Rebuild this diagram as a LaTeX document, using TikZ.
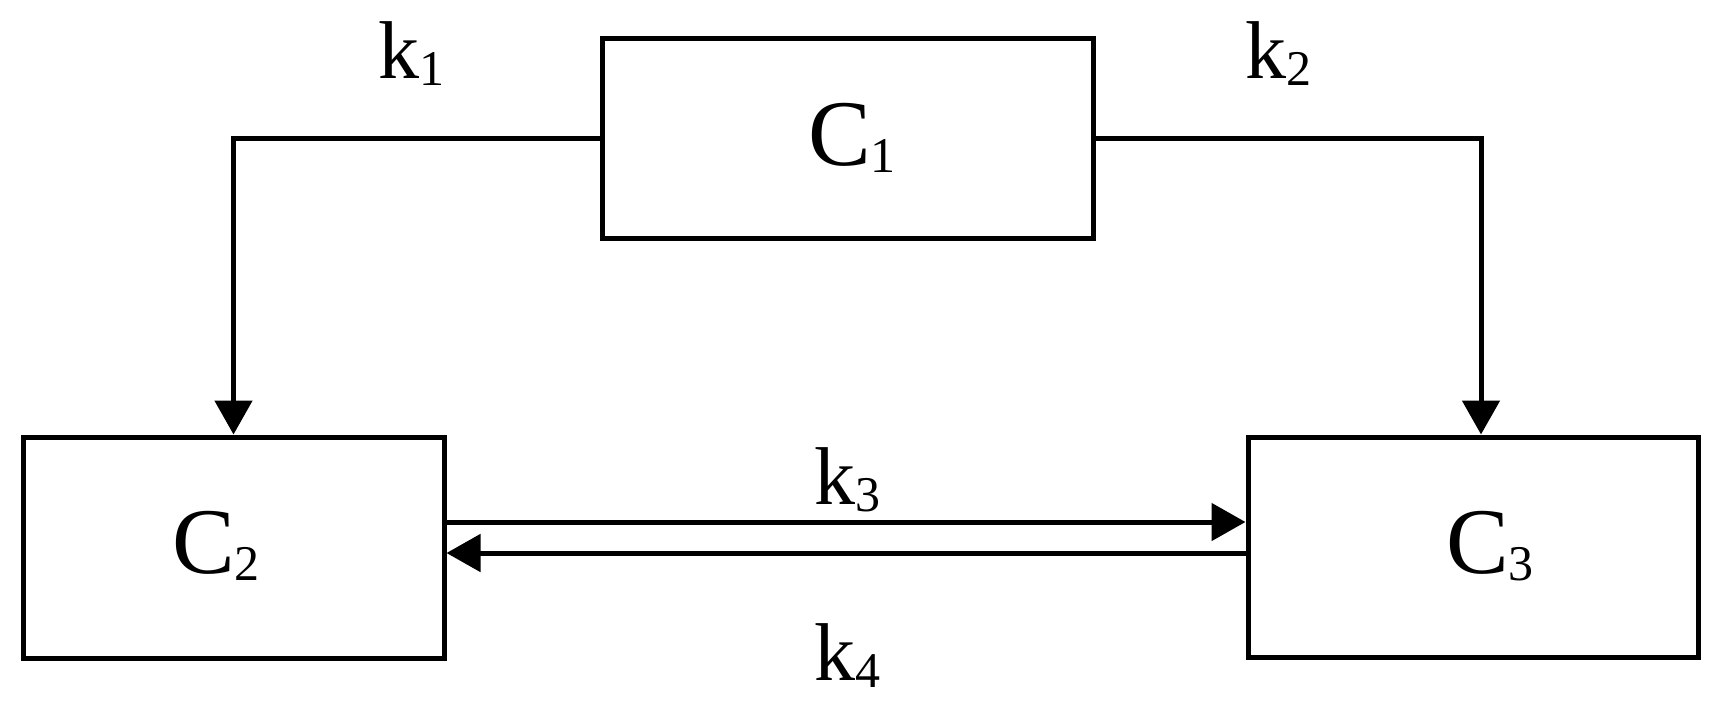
\documentclass[tikz,border=0pt]{standalone}
\usepackage{fontspec}
\setmainfont{Liberation Serif}
\usetikzlibrary{arrows.meta}
\tikzset{
  box/.style={draw, line width=2.5pt, rectangle, inner sep=0pt},
  conn/.style={line width=2.5pt},
  arr/.style={conn, -{Triangle[length=17pt,width=18.5pt]}},
  clab/.style={anchor=base, inner sep=0pt, font=\fontsize{47}{50}\selectfont},
  klab/.style={anchor=base, inner sep=0pt, font=\fontsize{41}{44}\selectfont},
}
\newcommand{\mysubs}[1]{\raisebox{-3.5pt}{\fontsize{25}{25}\selectfont #1}}
\begin{document}
\begin{tikzpicture}[x=0.5pt,y=-0.5pt]
\fill[white] (0,0) rectangle (1719,703);
\useasboundingbox (0,0) rectangle (1719,703);
% boxes
\node[box, minimum width=245.5pt, minimum height=100pt] (c1) at (847.5,138) {};
\node[box, minimum width=210.5pt, minimum height=110.5pt] (c2) at (233.5,547.5) {};
\node[box, minimum width=225pt, minimum height=110pt] (c3) at (1473,547) {};
% box labels
\node[clab] (c1t) at (852,165) {C\mysubs{1}};
\node[clab] (c2t) at (216,573) {C\mysubs{2}};
\node[clab] (c3t) at (1490,573) {C\mysubs{3}};
% connectors
\coordinate (r3) at ([xshift=4pt]c3.north);
\draw[arr] (c1.west) -| (c2.north);
\draw[arr] (c1.east) -| (r3);
\draw[arr] ([yshift=12.75pt]c2.east) -- ([yshift=12.5pt]c3.west);
\draw[arr] ([yshift=-3pt]c3.west) -- ([yshift=-2.75pt]c2.east);
% rate labels
\node[klab] (k1) at (411,78) {k\mysubs{1}};
\node[klab] (k2) at (1278,78) {k\mysubs{2}};
\node[klab] (k3) at (847,504) {k\mysubs{3}};
\node[klab] (k4) at (847,680) {k\mysubs{4}};
\end{tikzpicture}
\end{document}
